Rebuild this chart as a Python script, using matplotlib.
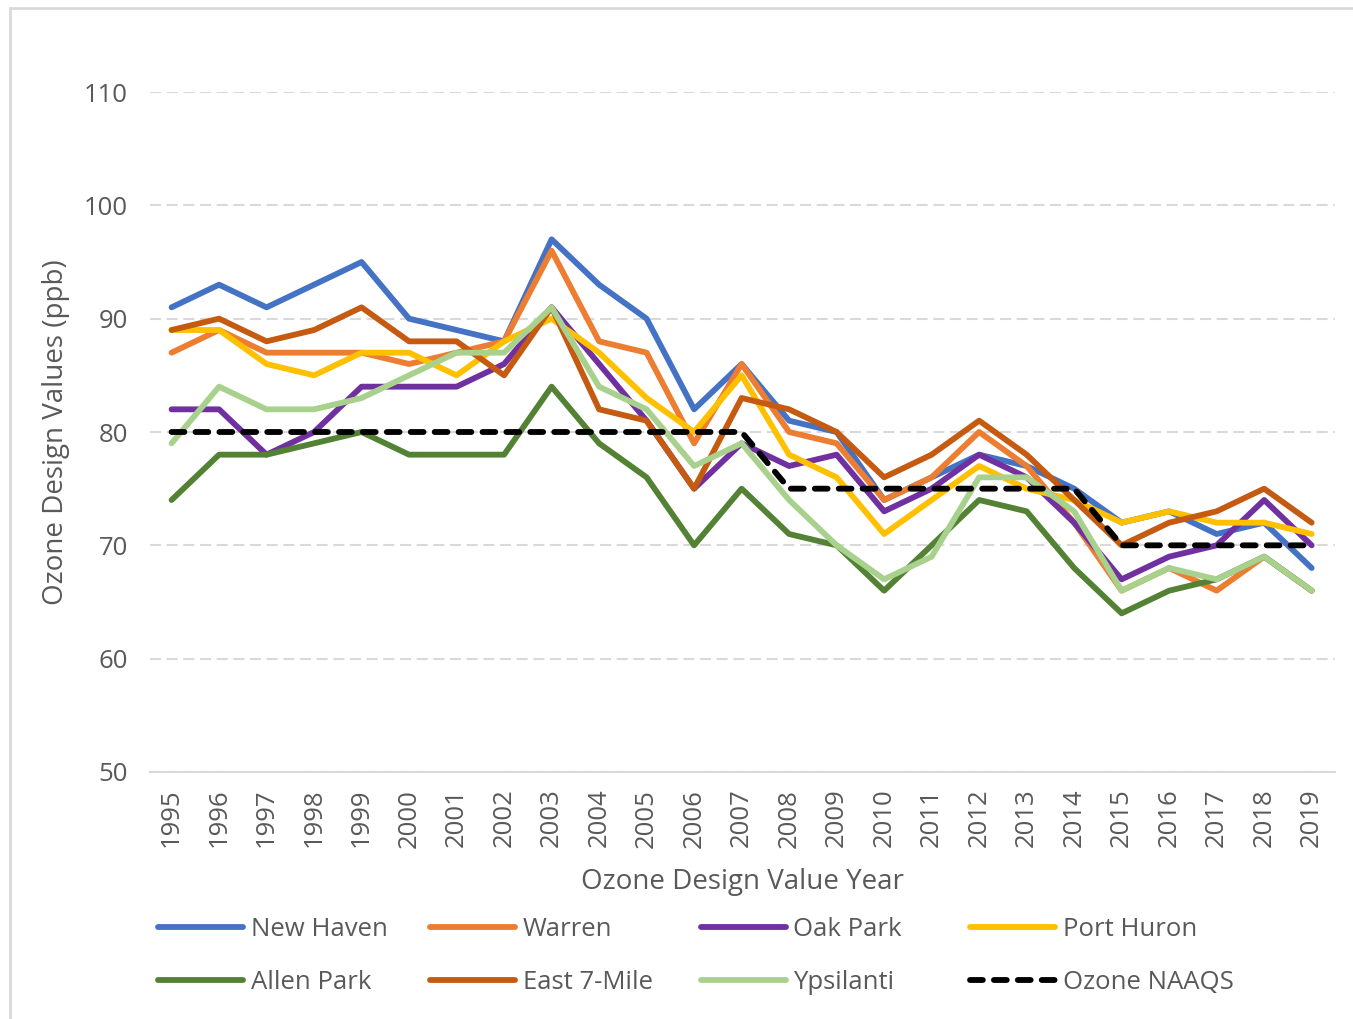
import matplotlib
matplotlib.use('Agg')
import matplotlib.pyplot as plt
from matplotlib.patches import Rectangle

plt.rcParams['font.family'] = ['Open Sans', 'DejaVu Sans']

years = list(range(1995, 2020))

new_haven = [91, 93, 91, 93, 95, 90, 89, 88, 97, 93, 90, 82, 86, 81, 80, 74, 76, 78, 77, 75, 72, 73, 71, 72, 68]
warren = [87, 89, 87, 87, 87, 86, 87, 88, 96, 88, 87, 79, 86, 80, 79, 74, 76, 80, 77, 72, 66, 68, 66, 69, 66]
oak_park = [82, 82, 78, 80, 84, 84, 84, 86, 91, 86, 81, 75, 79, 77, 78, 73, 75, 78, 76, 72, 67, 69, 70, 74, 70]
port_huron = [89, 89, 86, 85, 87, 87, 85, 88, 90, 87, 83, 80, 85, 78, 76, 71, 74, 77, 75, 74, 72, 73, 72, 72, 71]
allen_park = [74, 78, 78, 79, 80, 78, 78, 78, 84, 79, 76, 70, 75, 71, 70, 66, 70, 74, 73, 68, 64, 66, 67, 69, 66]
east_7_mile = [89, 90, 88, 89, 91, 88, 88, 85, 91, 82, 81, 75, 83, 82, 80, 76, 78, 81, 78, 74, 70, 72, 73, 75, 72]
ypsilanti = [79, 84, 82, 82, 83, 85, 87, 87, 91, 84, 82, 77, 79, 74, 70, 67, 69, 76, 76, 73, 66, 68, 67, 69, 66]
naaqs = [80] * 13 + [75] * 7 + [70] * 5

series = [
    ("New Haven", new_haven, "#4472C4"),
    ("Warren", warren, "#ED7D31"),
    ("Oak Park", oak_park, "#7030A0"),
    ("Port Huron", port_huron, "#FFC000"),
    ("Allen Park", allen_park, "#548235"),
    ("East 7-Mile", east_7_mile, "#C55A11"),
    ("Ypsilanti", ypsilanti, "#A9D18E"),
]

text_color = "#595959"
grid_color = "#D9D9D9"

fig = plt.figure(figsize=(13.53, 10.19), dpi=100)
ax = fig.add_axes([0.111, 0.2424, 0.876, 0.6673])

x = list(range(len(years)))
handles = []
for name, vals, color in series:
    h, = ax.plot(x, vals, color=color, lw=4.2, solid_joinstyle='round',
                 solid_capstyle='round', label=name)
    handles.append(h)
h, = ax.plot(x, naaqs, color='black', lw=4.2, dashes=(2.2, 1.9),
             dash_capstyle='round', label="Ozone NAAQS")
handles.append(h)

ax.set_xlim(-0.45, len(years) - 0.5)
ax.set_ylim(50, 110)
ax.set_yticks(range(50, 111, 10))
ax.set_xticks(x)
ax.set_xticklabels([str(y) for y in years], rotation=90)

ax.grid(axis='y', color=grid_color, lw=1.5, dashes=(5.3, 2.7))
ax.set_axisbelow(True)
for s in ['left', 'right', 'top']:
    ax.spines[s].set_visible(False)
ax.spines['bottom'].set_color(grid_color)
ax.spines['bottom'].set_linewidth(1.5)
ax.tick_params(axis='both', length=0, labelsize=18.5, labelcolor=text_color)
ax.tick_params(axis='x', pad=12)
ax.tick_params(axis='y', pad=16)

ax.set_ylabel("Ozone Design Values (ppb)", fontsize=20, color=text_color, labelpad=10)
ax.set_xlabel("Ozone Design Value Year", fontsize=20, color=text_color, labelpad=15)

# legend: 4 columns of 2 entries, equal column widths like Excel
col_x = [0.117, 0.318, 0.518, 0.717]
for i, cx in enumerate(col_x):
    leg = fig.legend(handles=[handles[i], handles[i + 4]], loc='upper left',
                     bbox_to_anchor=(cx, 0.1), frameon=False, fontsize=18.5,
                     handlelength=3.3, handletextpad=0.3, labelspacing=1.1,
                     borderaxespad=0, borderpad=0)
    for t in leg.get_texts():
        t.set_color(text_color)

fig.patches.append(Rectangle((10 / 1353, -0.01), 1.0, (1019 - 8) / 1019 + 0.01,
                             transform=fig.transFigure, fill=False,
                             edgecolor=grid_color, lw=2))

fig.savefig("out.png", dpi=100)
